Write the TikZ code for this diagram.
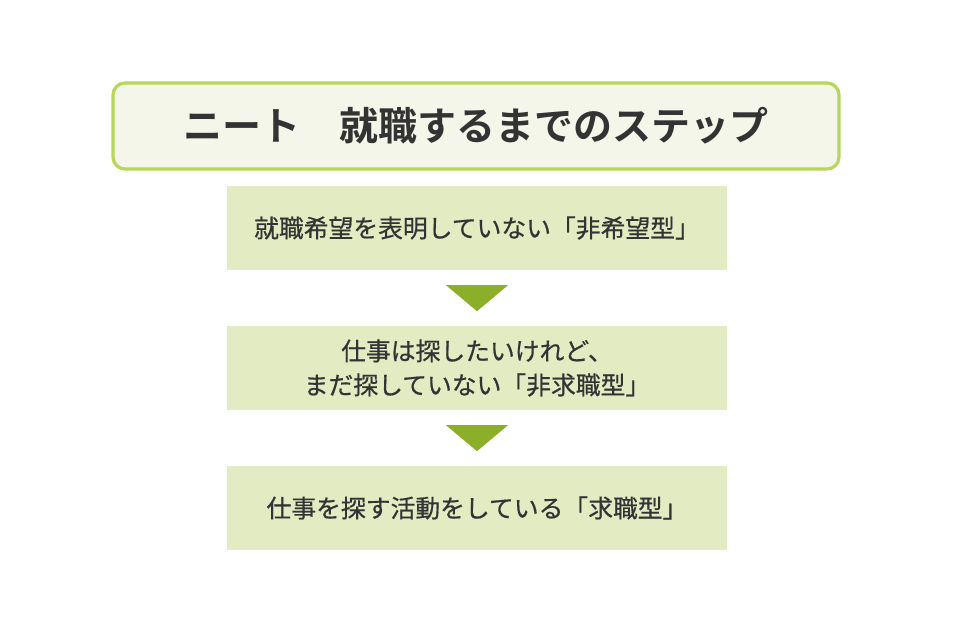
\documentclass[tikz,border=0pt]{standalone}
\usepackage{fontspec}
\newfontfamily\jp[FakeBold=0.6]{Noto Sans CJK JP}
\newfontfamily\jpb{Noto Sans CJK JP Bold}
\usetikzlibrary{calc}
\definecolor{frame}{HTML}{B8D65A}
\definecolor{titlefill}{HTML}{F4F6EA}
\definecolor{boxfill}{HTML}{E3EBC3}
\definecolor{arrowc}{HTML}{8CAF2A}
\definecolor{txt}{HTML}{333333}
\tikzset{
  titlebox/.style={draw=frame, line width=3.2pt, fill=titlefill, rounded corners=12pt,
    minimum width=726pt, minimum height=86pt, inner sep=0pt, text=txt,
    font=\jpb\fontsize{39}{46}\selectfont},
  stepbox/.style={fill=boxfill, minimum width=500pt, minimum height=84pt, inner sep=0pt,
    text=txt, align=center, font=\jp\fontsize{24.8}{34}\selectfont},
  tri/.style={fill=arrowc}
}
\begin{document}
\begin{tikzpicture}[x=1pt,y=-1pt]
\useasboundingbox (0,0) rectangle (954,638);
\node[titlebox] (t) at (476,126) {ニート　就職するまでのステップ};
\node[stepbox] (b1) at (477,228) {就職希望を表明していない「非希望型」};
\node[stepbox] (b2) at (477,368) {仕事は探したいけれど、\\まだ探していない「非求職型」};
\node[stepbox] (b3) at (477,508) {仕事を探す活動をしている「求職型」};
\coordinate (a1) at ($(b1.south)+(0,15)$);
\coordinate (a2) at ($(b2.south)+(0,15)$);
\fill[tri] ($(a1)+(-31,0)$) -- ($(a1)+(31,0)$) -- ($(a1)+(0,26)$) -- cycle;
\fill[tri] ($(a2)+(-31,0)$) -- ($(a2)+(31,0)$) -- ($(a2)+(0,26)$) -- cycle;
\end{tikzpicture}
\end{document}
